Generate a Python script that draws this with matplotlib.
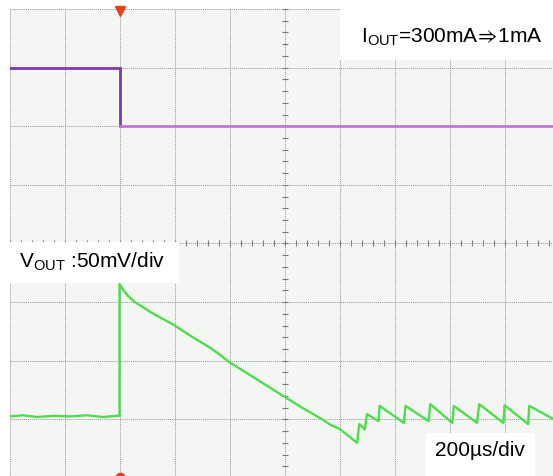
import matplotlib.pyplot as plt
from matplotlib.patches import Rectangle
from matplotlib.ticker import MultipleLocator

W, H = 553, 476

# time axis in divisions (200us/div), amplitudes in divisions
trigger_t = 2.0

iout_t = [0.0, 2.0, 2.0, 10.0]
iout_div = [7.0, 7.0, 6.0, 6.0]

vout_t = [0.0, 0.25, 0.5, 0.8, 1.1, 1.4, 1.7, 1.95, 2.0, 2.0, 2.06, 2.15, 2.28, 2.6,
          2.99, 3.3, 3.65, 3.83, 3.99, 4.4, 4.79, 5.01, 5.3, 5.65, 5.85, 6.0,
          6.32, 6.36, 6.46, 6.5, 6.71, 6.73, 7.17, 7.2, 7.62, 7.65, 8.05, 8.08,
          8.5, 8.54, 8.98, 9.0, 9.43, 9.45, 9.9]
vout_div = [1.05, 1.07, 1.04, 1.06, 1.05, 1.07, 1.04, 1.06, 1.06, 3.31, 3.22, 3.11, 3.0, 2.81,
            2.61, 2.42, 2.22, 2.1, 1.98, 1.74, 1.51, 1.38, 1.21, 1.02, 0.9, 0.84,
            0.6, 0.92, 0.83, 1.09, 0.97, 1.23, 0.94, 1.23, 0.97, 1.26, 0.94, 1.23,
            0.94, 1.26, 0.94, 1.24, 0.92, 1.23, 1.0]

plt.rcParams['mathtext.fontset'] = 'custom'
plt.rcParams['mathtext.rm'] = 'Liberation Sans'
plt.rcParams['mathtext.fallback'] = 'stixsans'
plt.rcParams['font.family'] = ['Liberation Sans', 'DejaVu Sans']

fig = plt.figure(figsize=(W / 100, H / 100), dpi=100)
fig.set_facecolor('white')
ax = fig.add_axes([9.5 / W, (H - 478) / H, 550 / W, 469 / H])
ax.set_xlim(0, 10)
ax.set_ylim(0, 8)
ax.set_facecolor('#f3f6f3')

# graticule
ax.xaxis.set_major_locator(MultipleLocator(1))
ax.yaxis.set_major_locator(MultipleLocator(1))
ax.xaxis.set_minor_locator(MultipleLocator(0.2))
ax.yaxis.set_minor_locator(MultipleLocator(0.2))
ax.grid(which='major', color='#969696', linestyle=(0, (1, 1)), linewidth=0.7)
ax.spines['left'].set_position(('data', 5))
ax.spines['bottom'].set_position(('data', 4))
for s in ax.spines.values():
    s.set_visible(False)
ax.tick_params(which='both', direction='inout', color='#7a7a7a',
               labelbottom=False, labelleft=False)
ax.tick_params(which='major', length=5, width=0.8)
ax.tick_params(which='minor', length=4, width=0.8)

# traces
ax.plot(iout_t[:3], iout_div[:3], color='#8236b4', lw=2.0, solid_joinstyle='miter')
ax.plot(iout_t[2:], iout_div[2:], color='#c274d8', lw=2.0)
ax.plot(vout_t, vout_div, color='#4fdc4f', lw=1.7)

# trigger markers
ax.plot([trigger_t], [7.96], marker='v', color='#e8401c', ms=7, clip_on=False)
ax.plot([trigger_t], [0.02], marker='o', color='#e8401c', ms=6, clip_on=False)

# labels on white boxes
def box(x0, y0, x1, y1):
    fig.patches.append(Rectangle((x0 / W, 1 - y1 / H), (x1 - x0) / W, (y1 - y0) / H,
                                 transform=fig.transFigure, facecolor='white',
                                 edgecolor='none', zorder=5))

box(340, 8, 553, 60)
box(10, 242, 179, 283)
box(426, 433, 535, 476)

fig.text(361 / W, 1 - 37 / H, r'I$_{\mathrm{OUT}}$=300mA$\!\Rightarrow\!$1mA',
         fontsize=15, va='center', zorder=6)
fig.text(19 / W, 1 - 262 / H, r'V$_{\mathrm{OUT}}$ :50mV/div',
         fontsize=15, va='center', zorder=6)
fig.text(435 / W, 1 - 451 / H, '200µs/div', fontsize=15, va='center', zorder=6)

fig.savefig('out.png', dpi=100)
